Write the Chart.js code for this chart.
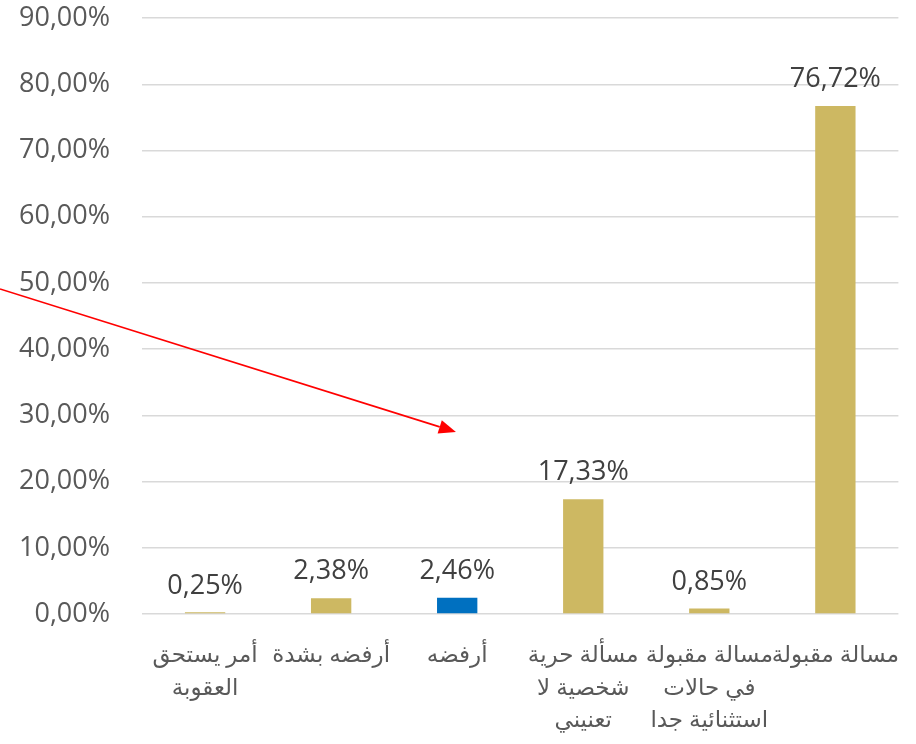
<!DOCTYPE html>
<html>
<head>
<meta charset="utf-8">
<script src="https://cdn.jsdelivr.net/npm/chart.js@4/dist/chart.umd.min.js"></script>
<style>
  html, body { margin: 0; padding: 0; background: #fff; }
  #wrap { width: 916px; height: 744px; position: relative; overflow: hidden; }
  #box { position: absolute; left: 0; top: 0; width: 916px; height: 754px; }
</style>
</head>
<body>
<div id="wrap"><div id="box"><canvas id="chart"></canvas></div></div>
<script>
// categories (multi-line, as shown under each bar)
const categories = [
  ['أمر يستحق', 'العقوبة'],
  ['أرفضه بشدة'],
  ['أرفضه'],
  ['مسألة حرية', 'شخصية لا', 'تعنيني'],
  ['مسالة مقبولة', 'في حالات', 'استثنائية جدا'],
  ['مسالة مقبولة']
];
const shares = [0.25, 2.38, 2.46, 17.33, 0.85, 76.72];
const barColors = ['#CDB862', '#CDB862', '#0070C0', '#CDB862', '#CDB862', '#CDB862'];
const yTicks = [0, 10, 20, 30, 40, 50, 60, 70, 80, 90];

// red arrow annotation, in axis units: from the left edge to near the third bar
const arrowFrom = { y: 49.1 };
const arrowTo = { x: 1.99, y: 27.5 };

const fmt = v => v.toFixed(2).replace('.', ',') + '%';
const FONT = "'Open Sans', 'DejaVu Sans', sans-serif";

const valueLabels = {
  id: 'valueLabels',
  afterDatasetsDraw(chart) {
    const ctx = chart.ctx;
    const meta = chart.getDatasetMeta(0);
    ctx.save();
    ctx.font = '27px ' + FONT;
    ctx.fillStyle = '#404040';
    ctx.textAlign = 'center';
    ctx.textBaseline = 'bottom';
    meta.data.forEach((bar, i) => {
      ctx.fillText(fmt(shares[i]), bar.x, bar.y - 13);
    });
    ctx.restore();
  }
};

const arrow = {
  id: 'arrow',
  afterDraw(chart) {
    const { ctx, scales } = chart;
    const x0 = 0, y0 = scales.y.getPixelForValue(arrowFrom.y);
    const x1 = scales.x.getPixelForValue(arrowTo.x);
    const y1 = scales.y.getPixelForValue(arrowTo.y);
    const ang = Math.atan2(y1 - y0, x1 - x0);
    const head = 17, half = 7;
    ctx.save();
    ctx.strokeStyle = '#FF0000';
    ctx.fillStyle = '#FF0000';
    ctx.lineWidth = 1.6;
    ctx.beginPath();
    ctx.moveTo(x0, y0);
    ctx.lineTo(x1 - head * Math.cos(ang), y1 - head * Math.sin(ang));
    ctx.stroke();
    ctx.beginPath();
    ctx.moveTo(x1, y1);
    ctx.lineTo(x1 - head * Math.cos(ang) + half * Math.sin(ang), y1 - head * Math.sin(ang) - half * Math.cos(ang));
    ctx.lineTo(x1 - head * Math.cos(ang) - half * Math.sin(ang), y1 - head * Math.sin(ang) + half * Math.cos(ang));
    ctx.closePath();
    ctx.fill();
    ctx.restore();
  }
};

new Chart(document.getElementById('chart'), {
  type: 'bar',
  data: {
    labels: categories,
    datasets: [{
      data: shares,
      backgroundColor: barColors,
      categoryPercentage: 1,
      barPercentage: 0.32
    }]
  },
  options: {
    responsive: true,
    maintainAspectRatio: false,
    animation: false,
    layout: { padding: { top: 11, right: 0, left: 17, bottom: 0 } },
    plugins: { legend: { display: false }, tooltip: { enabled: false } },
    scales: {
      x: {
        grid: { display: false },
        border: { display: false },
        ticks: {
          autoSkip: false,
          maxRotation: 0,
          minRotation: 0,
          color: '#595959',
          padding: 17,
          font: { family: FONT, size: 23, lineHeight: 1.42 }
        }
      },
      y: {
        min: 0,
        max: 90,
        afterBuildTicks: axis => { axis.ticks = yTicks.map(v => ({ value: v })); },
        grid: { color: '#D9D9D9', lineWidth: 1.5, drawTicks: true, tickLength: 30, tickColor: 'rgba(0,0,0,0)' },
        border: { display: false },
        ticks: {
          color: '#595959',
          padding: 2,
          font: { family: FONT, size: 27 },
          callback: v => fmt(v)
        }
      }
    }
  },
  plugins: [valueLabels, arrow]
});
</script>
</body>
</html>
